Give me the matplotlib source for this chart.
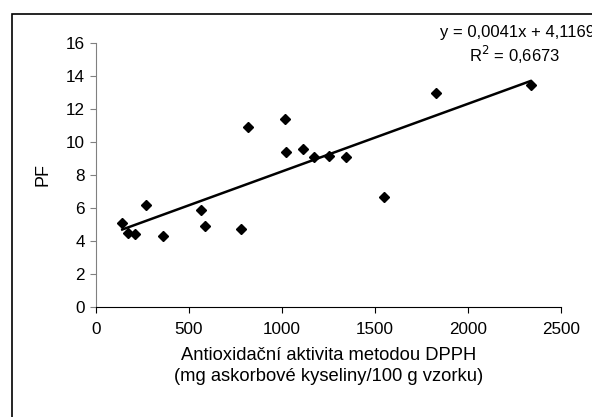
import numpy as np
import matplotlib.pyplot as plt
from matplotlib.patches import Rectangle

plt.rcParams["font.family"] = ["Liberation Sans", "DejaVu Sans"]

# antioxidant activity (DPPH) vs PF
dpph = [141, 170, 211, 269, 360, 563, 586, 781, 819, 1014,
        1022, 1113, 1174, 1254, 1344, 1547, 1828, 2337]
pf = [5.11, 4.50, 4.40, 6.20, 4.32, 5.86, 4.91, 4.75, 10.93, 11.37,
      9.41, 9.60, 9.09, 9.15, 9.09, 6.69, 12.99, 13.43]

slope = 0.0041
intercept = 4.1169
eq_text = "y = 0,0041x + 4,1169"
r2_text = "R$^2$ = 0,6673"

fig = plt.figure(figsize=(5.92, 4.17), dpi=100)
ax = fig.add_axes([96 / 592, 1 - 307 / 417, 465 / 592, 264 / 417])

# outer chart border (cut off at right and bottom, as in the original)
fig.patches.append(Rectangle((12 / 592, -0.05), 1.2, (417 - 14) / 417 + 0.05,
                             transform=fig.transFigure, fill=False,
                             edgecolor="black", linewidth=1.2))

ax.plot(dpph, pf, "D", color="black", markersize=5.5, linestyle="none")

xfit = np.array([min(dpph), max(dpph)])
ax.plot(xfit, slope * xfit + intercept, color="black", linewidth=1.8)

ax.set_xlim(0, 2500)
ax.set_ylim(0, 16)
ax.set_xticks(range(0, 2501, 500))
ax.set_yticks(range(0, 17, 2))

for s in ["top", "right"]:
    ax.spines[s].set_visible(False)
ax.spines["left"].set_color("#808080")
ax.spines["bottom"].set_color("black")
ax.tick_params(axis="y", direction="out", length=4, labelsize=12.3, pad=4, color="#808080")
ax.tick_params(axis="x", direction="out", length=4, labelsize=12.3, pad=7)

ax.set_ylabel("PF", fontsize=13, labelpad=10)
ax.set_xlabel("Antioxidační aktivita metodou DPPH\n(mg askorbové kyseliny/100 g vzorku)",
              fontsize=13.2, labelpad=7, linespacing=1.3)

fig.text(440 / 592, 1 - 37 / 417, eq_text, fontsize=12, ha="left", va="baseline")
fig.text(515 / 592, 1 - 62 / 417, r2_text, fontsize=12, ha="center", va="baseline")

fig.savefig("out.png", dpi=100)
